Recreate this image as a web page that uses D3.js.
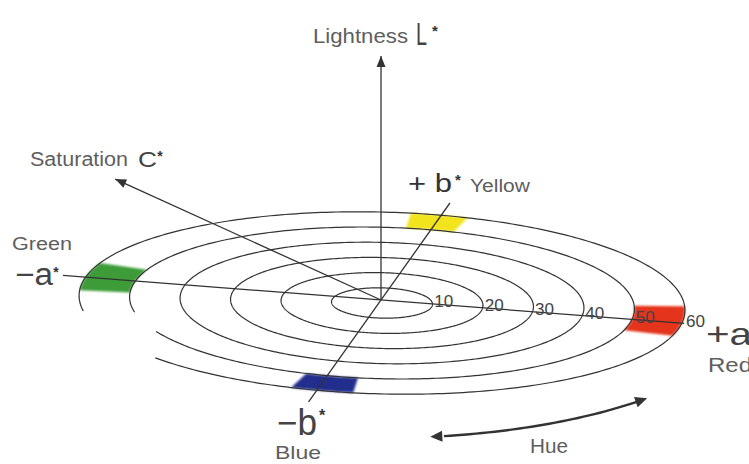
<!DOCTYPE html>
<html>
<head>
<meta charset="utf-8">
<script src="https://cdn.jsdelivr.net/npm/d3@7"></script>
<style>
html, body { margin: 0; background: #fff; }
svg { display: block; }
</style>
</head>
<body>
<script>
// chroma rings and their tick labels
var ringValues = [10, 20, 30, 40, 50, 60];
var ringLabels = ["10", "20", "30", "40", "50", "60"];

// colour patches, between the 50 and 60 rings (ellipse angle, degrees)
var patchNames  = ["Green", "Yellow", "Red", "Blue"];
var patchColors = ["#3d9c37", "#f2e41c", "#e4361f", "#232d8e"];
var patchFrom   = [183, 275, -3, 95];
var patchTo     = [201, 286, 16, 107];
var patchInner  = 50, patchOuter = 60;

var W = 749, H = 464;
var svg = d3.select("body").append("svg")
	.attr("width", W)
	.attr("height", H);

var defs = svg.append("defs");
defs.append("filter").attr("id", "soft")
	.append("feGaussianBlur").attr("stdDeviation", 1);

var ink = "#333";
var word = "#5e5e5e";
var font = "Liberation Sans, Arial, sans-serif";

/*
/	ELLIPSE GEOMETRY
*/
var cx = 382, cy = 303, tilt = 1.5 * Math.PI / 180, squash = 0.3;
var r = d3.scaleLinear().domain([0, 60]).range([0, 303]);

function ellPt(v, deg) {
	var t = deg * Math.PI / 180;
	var a = r(v) * Math.cos(t), b = r(v) * squash * Math.sin(t);
	return [cx + a * Math.cos(tilt) - b * Math.sin(tilt),
	        cy + a * Math.sin(tilt) + b * Math.cos(tilt)];
}
function arc(v, from, to) {
	return d3.range(from, to + 0.5, 1).map(function(d){ return ellPt(v, d); });
}
var line = d3.line();

var patchGroup = svg.append('g').attr('filter', 'url(#soft)');
var ringGroup = svg.append('g');
var axisGroup = svg.append('g');
var textGroup = svg.append('g');

/*
/	COLOUR PATCHES
*/
patchNames.forEach(function(n, i){
	var pts = arc(patchOuter, patchFrom[i], patchTo[i])
		.concat(arc(patchInner, patchFrom[i], patchTo[i]).reverse());
	patchGroup.append('path')
		.attr('d', line(pts) + 'Z')
		.style('fill', patchColors[i]);
});

/*
/	RINGS (outer two open at lower left)
*/
ringValues.forEach(function(v){
	var from = 0, to = 360;
	if (v == 50) { from = 168; to = 513; }
	if (v == 60) { from = 170; to = 498; }
	ringGroup.append('path')
		.attr('d', line(arc(v, from, to)))
		.attr('fill', 'none')
		.attr('stroke', ink)
		.attr('stroke-width', 1.2);
});

/*
/	AXES
*/
var ox = 381, oy = 300;
function axPt(deg, len) {
	var t = deg * Math.PI / 180;
	return [ox + len * Math.cos(t), oy + len * Math.sin(t)];
}
function arrowHead(g, tip, dir, len, hw) {
	var n = [-dir[1], dir[0]];
	var pts = [tip,
		[tip[0] - dir[0] * len + n[0] * hw, tip[1] - dir[1] * len + n[1] * hw],
		[tip[0] - dir[0] * len - n[0] * hw, tip[1] - dir[1] * len - n[1] * hw]];
	g.append('path').attr('d', line(pts) + 'Z').style('fill', ink);
}

var aDeg = 4.42, bDeg = -54.6, cDeg = 204.46;
var axes = [
	[axPt(-90, 0), axPt(-90, 244)],
	[axPt(cDeg, 0), axPt(cDeg, 292)],
	[axPt(aDeg, -319), axPt(aDeg, 304)],
	[axPt(bDeg, -125), axPt(bDeg, 119)]
];
axes.forEach(function(s){
	axisGroup.append('path')
		.attr('d', line(s))
		.attr('stroke', ink)
		.attr('stroke-width', 1.3);
});
arrowHead(axisGroup, axPt(-90, 244), [0, -1], 11, 4.5);
var cr = cDeg * Math.PI / 180;
arrowHead(axisGroup, axPt(cDeg, 292), [Math.cos(cr), Math.sin(cr)], 11, 4.5);

/*
/	HUE ARROW
*/
var hueRx = 375, hueRy = 136;
function huePt(deg) {
	var t = deg * Math.PI / 180;
	return [cx + hueRx * Math.cos(t), cy - 1 + hueRy * Math.sin(t)];
}
var huePts = d3.range(46.5, 81.5, 1).map(huePt);
axisGroup.append('path')
	.attr('d', line(huePts))
	.attr('fill', 'none')
	.attr('stroke', ink)
	.attr('stroke-width', 2.4);
function unit(p, q) {
	var dx = q[0] - p[0], dy = q[1] - p[1], l = Math.sqrt(dx * dx + dy * dy);
	return [dx / l, dy / l];
}
var hA = huePt(45), hB = huePt(47), hC = huePt(80.6), hD = huePt(82.6);
arrowHead(axisGroup, hA, unit(hB, hA), 12, 5.5);
arrowHead(axisGroup, hD, unit(hC, hD), 12, 5.5);

/*
/	RING TICK LABELS ALONG +a
*/
var at = aDeg * Math.PI / 180;
ringValues.forEach(function(v, i){
	var d = r(v) + 3;
	textGroup.append('text')
		.attr('x', ox + d * Math.cos(at))
		.attr('y', oy + d * Math.sin(at) + 3)
		.attr('font-family', font)
		.attr('font-size', '17px')
		.attr('textLength', 19)
		.attr('lengthAdjust', 'spacingAndGlyphs')
		.style('fill', '#444')
		.text(ringLabels[i]);
});

/*
/	LABELS
*/
function label(txt, x, y, size, len, color) {
	var t = textGroup.append('text')
		.attr('x', x)
		.attr('y', y)
		.attr('font-family', font)
		.attr('font-size', size + 'px')
		.style('fill', color)
		.text(txt);
	if (len) t.attr('textLength', len).attr('lengthAdjust', 'spacingAndGlyphs');
	return t;
}
function star(x, y, size) {
	textGroup.append('text')
		.attr('x', x)
		.attr('y', y + 0.57 * size)
		.attr('text-anchor', 'middle')
		.attr('font-family', font)
		.attr('font-weight', 'bold')
		.attr('font-size', size + 'px')
		.style('fill', ink)
		.text('*');
}

label('Lightness', 313, 43, 20, 95, word);
label('L', 416, 45, 31, 11, '#444');
star(435, 27, 15);

label('Saturation', 30, 166, 20, 98, word);
label('C', 138, 167, 22, 19, '#444');
star(160, 153, 14);

label('Green', 12, 250, 18, 60, word);
label('\u2212a', 15, 285, 31, 38, '#444');
star(56, 269, 14);

label('+ b', 408, 192, 26, 44, '#333');
star(458, 176, 15);
label('Yellow', 470, 192, 18, 60, word);

label('+a', 706, 345, 32, 46, '#444');
label('Red', 708, 372, 20, 44, word);

label('\u2212b', 277, 435, 36, 40, '#444');
star(322, 412, 16);
label('Blue', 275, 459, 19, 46, word);

label('Hue', 530, 453, 20, 38, word);
</script>
</body>
</html>
